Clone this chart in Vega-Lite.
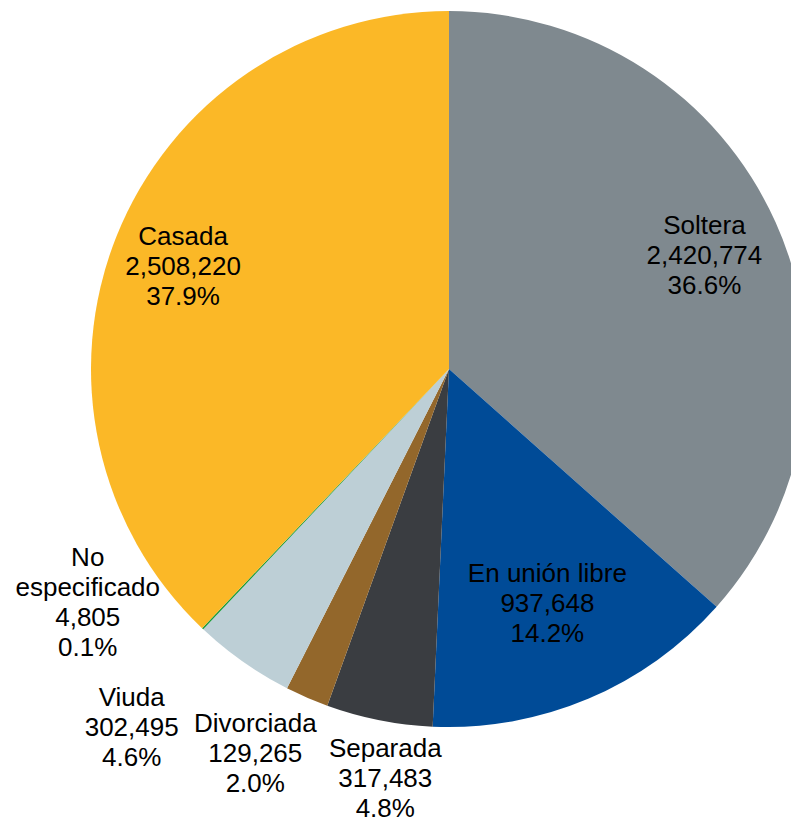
{
  "$schema": "https://vega.github.io/schema/vega-lite/v6.json",
  "autosize": {"type": "none"},
  "width": 716,
  "height": 716,
  "padding": {"left": 91, "top": 11, "right": 0, "bottom": 94},
  "background": "white",
  "config": {"view": {"stroke": null}},
  "data": {
    "values": [
      {"orden": 1, "category": "Soltera", "value": 2420774, "pct": 36.6},
      {"orden": 2, "category": "En unión libre", "value": 937648, "pct": 14.2},
      {"orden": 3, "category": "Separada", "value": 317483, "pct": 4.8},
      {"orden": 4, "category": "Divorciada", "value": 129265, "pct": 2.0},
      {"orden": 5, "category": "Viuda", "value": 302495, "pct": 4.6},
      {"orden": 6, "category": "No especificado", "value": 4805, "pct": 0.1},
      {"orden": 7, "category": "Casada", "value": 2508220, "pct": 37.9}
    ]
  },
  "transform": [
    {"calculate": "(datum.category == 'No especificado' ? 'No\\nespecificado' : datum.category) + '\\n' + format(datum.value, ',') + '\\n' + format(datum.pct, '.1f') + '%'", "as": "label"}
  ],
  "encoding": {
    "theta": {"field": "value", "type": "quantitative", "stack": true},
    "order": {"field": "orden", "type": "quantitative"}
  },
  "layer": [
    {
      "mark": {"type": "arc", "outerRadius": 358},
      "encoding": {
        "color": {
          "field": "category",
          "type": "nominal",
          "scale": {
            "domain": ["Soltera", "En unión libre", "Separada", "Divorciada", "Viuda", "No especificado", "Casada"],
            "range": ["#7F898F", "#004B97", "#3A3D41", "#93672B", "#BDCFD6", "#1A9A3A", "#FBB827"]
          },
          "legend": null
        }
      }
    },
    {
      "mark": {"type": "text", "radius": 280, "dy": -28, "font": "Liberation Sans", "fontSize": 26, "lineHeight": 30, "lineBreak": "\n", "align": "center", "baseline": "middle", "color": "black"},
      "encoding": {"text": {"condition": {"test": "datum.category == 'Soltera'", "field": "label"}, "value": ""}}
    },
    {
      "mark": {"type": "text", "radius": 280, "dx": -6, "dy": -28, "font": "Liberation Sans", "fontSize": 26, "lineHeight": 30, "lineBreak": "\n", "align": "center", "baseline": "middle", "color": "black"},
      "encoding": {"text": {"condition": {"test": "datum.category == 'Casada'", "field": "label"}, "value": ""}}
    },
    {
      "mark": {"type": "text", "radius": 253, "dy": -28, "font": "Liberation Sans", "fontSize": 26, "lineHeight": 30, "lineBreak": "\n", "align": "center", "baseline": "middle", "color": "black"},
      "encoding": {"text": {"condition": {"test": "datum.category == 'En unión libre'", "field": "label"}, "value": ""}}
    },
    {
      "mark": {"type": "text", "radius": 414, "dx": 17, "dy": -26, "font": "Liberation Sans", "fontSize": 26, "lineHeight": 30, "lineBreak": "\n", "align": "center", "baseline": "middle", "color": "black"},
      "encoding": {"text": {"condition": {"test": "datum.category == 'Separada'", "field": "label"}, "value": ""}}
    },
    {
      "mark": {"type": "text", "radius": 430, "dx": -23, "dy": -40, "font": "Liberation Sans", "fontSize": 26, "lineHeight": 30, "lineBreak": "\n", "align": "center", "baseline": "middle", "color": "black"},
      "encoding": {"text": {"condition": {"test": "datum.category == 'Divorciada'", "field": "label"}, "value": ""}}
    },
    {
      "mark": {"type": "text", "radius": 475, "dx": -44, "dy": -59, "font": "Liberation Sans", "fontSize": 26, "lineHeight": 30, "lineBreak": "\n", "align": "center", "baseline": "middle", "color": "black"},
      "encoding": {"text": {"condition": {"test": "datum.category == 'Viuda'", "field": "label"}, "value": ""}}
    },
    {
      "mark": {"type": "text", "radius": 400, "dx": -86, "dy": -101, "font": "Liberation Sans", "fontSize": 26, "lineHeight": 30, "lineBreak": "\n", "align": "center", "baseline": "middle", "color": "black"},
      "encoding": {"text": {"condition": {"test": "datum.category == 'No especificado'", "field": "label"}, "value": ""}}
    }
  ]
}
